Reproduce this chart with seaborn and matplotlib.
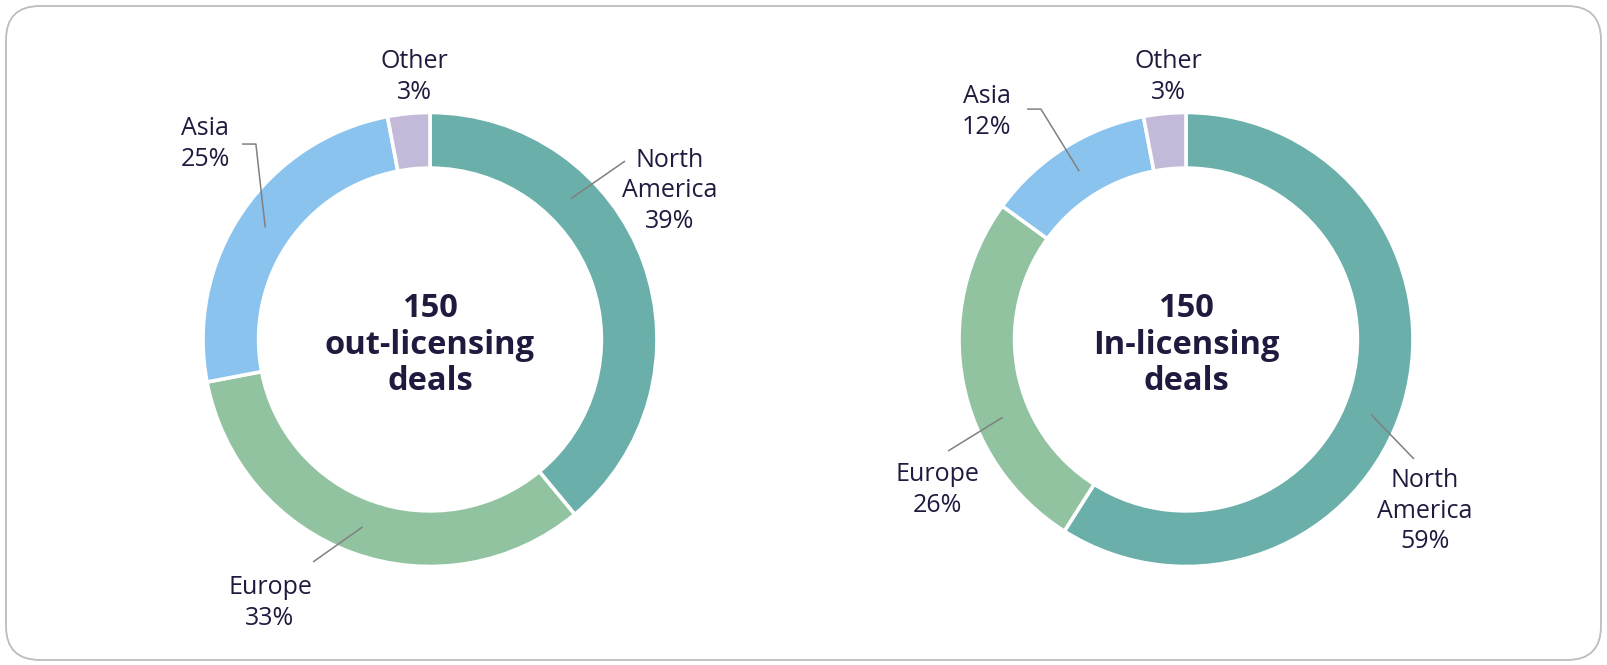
import numpy as np
import matplotlib.pyplot as plt
import seaborn as sns
from matplotlib.patches import FancyBboxPatch

# data
regions = ["North\nAmerica", "Europe", "Asia", "Other"]
out_shares = [39, 33, 25, 3]
in_shares = [59, 26, 12, 3]
deal_counts = [150, 150]
deal_types = ["out-licensing", "In-licensing"]
colors = ["#6AAFAA", "#92C3A1", "#8AC3EE", "#C3BAD9"]

sns.set_theme(style="white")
plt.rcParams['font.family'] = ['Open Sans', 'DejaVu Sans']
text_col = "#211A3F"
line_col = "#808080"

W, H = 1607, 665
R = 227  # px per radius unit
fig = plt.figure(figsize=(W / 100, H / 100), dpi=100)

# rounded frame
bg = fig.add_axes([0, 0, 1, 1])
bg.set_xlim(0, W)
bg.set_ylim(0, H)
bg.axis("off")
bg.add_patch(FancyBboxPatch((6, 5), W - 12, H - 11, boxstyle="round,pad=0,rounding_size=34",
                            fc="white", ec="#BDBDBD", lw=1.3))

# label layout: text pos, leader start, optional bend, anchor angle (clockwise from top, None = wedge middle)
layouts = [
    [((1.057, 0.655), (0.859, 0.786), None, 45),
     ((-0.705, -1.160), (-0.515, -0.980), None, None),
     ((-0.991, 0.861), (-0.828, 0.861), (-0.767, 0.861), None),
     ((-0.070, 1.155), None, None, None)],
    [((1.053, -0.756), (1.004, -0.526), None, 112),
     ((-1.093, -0.663), (-1.048, -0.491), None, 247),
     ((-0.877, 1.002), (-0.700, 1.015), (-0.639, 1.015), None),
     ((-0.079, 1.155), None, None, None)],
]

centers = [(430, H - 339.5), (1186, H - 339.5)]
S = 640
ring = 0.245

for i, shares in enumerate([out_shares, in_shares]):
    cx, cy = centers[i]
    ax = fig.add_axes([(cx - S / 2) / W, (cy - S / 2) / H, S / W, S / H])
    lim = S / 2 / R
    wedges, _ = ax.pie(shares, colors=colors, startangle=90, counterclock=False, radius=1,
                       wedgeprops=dict(width=ring, edgecolor="white", linewidth=2.6))
    ax.set_xlim(-lim, lim)
    ax.set_ylim(-lim, lim)
    ax.set_aspect("equal")
    ax.axis("off")

    ax.text(0, -0.025, f"{deal_counts[i]}\n{deal_types[i]}\ndeals", ha="center", va="center",
            fontsize=23.5, fontweight="bold", color=text_col, linespacing=1.15)

    for j, w in enumerate(wedges):
        tpos, start, bend, ang = layouts[i][j]
        ax.text(tpos[0], tpos[1], f"{regions[j]}\n{shares[j]}%", ha="center", va="center",
                fontsize=18, color=text_col, linespacing=1.3)
        if start is None:
            continue
        if ang is None:
            a = np.deg2rad((w.theta1 + w.theta2) / 2)
        else:
            a = np.deg2rad(90 - ang)
        rr = 1 - ring / 2
        end = (rr * np.cos(a), rr * np.sin(a))
        pts = [start] + ([bend] if bend else []) + [end]
        xs, ys = zip(*pts)
        ax.plot(xs, ys, color=line_col, lw=1.1, solid_capstyle="butt")

fig.savefig("out.png", dpi=100)
